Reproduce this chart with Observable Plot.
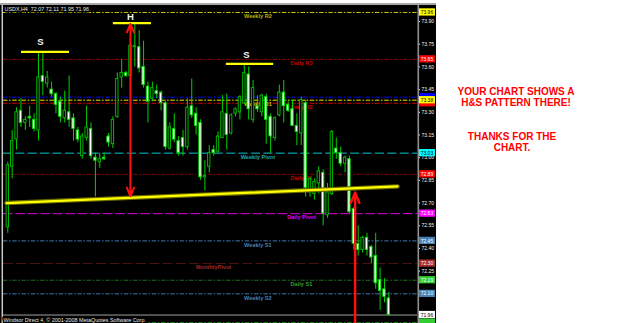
<!DOCTYPE html>
<html><head><meta charset="utf-8">
<script src="https://cdn.jsdelivr.net/npm/d3@7"></script>
<script src="https://cdn.jsdelivr.net/npm/@observablehq/plot@0.6"></script>
<style>
html,body{margin:0;padding:0;background:#fff;width:625px;height:323px;overflow:hidden;}
#wrap{position:relative;width:625px;height:323px;}
#chart{position:absolute;left:0;top:0;line-height:0;}
.note{position:absolute;color:#ff0000;font:bold 10px "Liberation Sans",Arial,sans-serif;line-height:10px;white-space:nowrap;transform:translateX(-50%);}
.strip{position:absolute;left:0;width:436px;}
</style></head><body>
<div id="wrap">
<div id="chart"></div>
<div class="strip" style="top:0;height:3px;background:#fff"></div>
<div class="strip" style="top:3px;height:2px;background:#a8a8a8"></div>
<div class="note" style="left:516px;top:87px">YOUR CHART SHOWS A</div>
<div class="note" style="left:516px;top:98px">H&amp;S PATTERN THERE!</div>
<div class="note" style="left:512px;top:132px">THANKS FOR THE</div>
<div class="note" style="left:512px;top:143px">CHART.</div>
</div>
<script>
// ---- candles (USDX, H4) ----
const open  = [72.54,72.94,73.12,73.31,73.23,73.27,73.25,73.18,73.54,73.49,73.45,73.42,73.37,73.26,73.30,73.26,73.18,73.01,73.13,73.19,73.00,72.97,73.00,73.14,73.09,73.27,73.53,73.56,73.54,73.73,73.73,73.60,73.47,73.39,73.44,73.43,73.36,73.06,73.19,73.11,73.13,73.07,73.34,73.29,73.23,72.87,72.94,73.05,73.04,73.13,73.29,73.16,73.29,73.30,73.36,73.55,73.25,73.34,73.30,73.40,73.27,73.13,73.28,73.43,73.35,73.32,73.21,73.16,73.36,72.78,72.76,72.83,72.90,72.62,72.76,73.06,73.03,72.96,72.99,72.66,72.43,72.39,72.47,72.41,72.35,72.19,72.13,72.07];
const high  = [72.97,73.18,73.33,73.39,73.27,73.34,73.29,73.69,73.69,73.57,73.50,73.43,73.40,73.44,73.54,73.29,73.20,73.16,73.34,73.23,73.03,73.03,73.03,73.16,73.27,73.56,73.65,73.57,73.78,73.89,73.84,73.77,73.50,73.50,73.48,73.44,73.37,73.23,73.29,73.14,73.18,73.39,73.52,73.33,73.25,72.98,73.08,73.08,73.17,73.41,73.42,73.29,73.33,73.41,73.61,73.60,73.51,73.41,73.42,73.42,73.29,73.27,73.48,73.51,73.37,73.38,73.29,73.40,73.38,72.87,72.86,72.94,72.92,72.83,73.18,73.13,73.07,73.01,73.01,72.67,72.55,72.48,72.50,72.42,72.50,72.27,72.20,72.11];
const low   = [72.50,72.86,73.05,73.20,73.18,73.20,73.17,73.11,73.41,73.46,73.40,73.29,73.23,73.23,73.20,73.11,73.10,72.99,73.11,72.99,72.74,72.93,72.98,73.07,73.06,73.26,73.46,73.53,73.52,73.60,73.56,73.46,73.23,73.37,73.39,73.31,73.05,73.05,73.10,73.01,73.01,73.05,73.26,73.15,72.85,72.78,72.90,73.01,73.03,73.13,73.05,73.15,73.27,73.25,73.35,73.25,73.23,73.30,73.27,73.09,73.03,73.11,73.27,73.23,73.30,73.21,73.08,73.08,72.74,72.74,72.72,72.76,72.55,72.60,72.75,72.99,72.94,72.90,72.63,72.39,72.35,72.37,72.35,72.30,72.13,71.99,72.04,71.95];
const close = [72.95,73.11,73.30,73.23,73.25,73.26,73.19,73.53,73.50,73.53,73.42,73.35,73.27,73.31,73.25,73.19,73.12,73.14,73.20,73.01,72.98,72.99,72.99,73.10,73.25,73.52,73.56,73.54,73.74,73.74,73.59,73.48,73.37,73.46,73.42,73.36,73.07,73.20,73.12,73.03,73.07,73.33,73.28,73.21,72.87,72.88,73.03,73.03,73.14,73.30,73.15,73.28,73.32,73.40,73.56,73.32,73.46,73.32,73.41,73.25,73.14,73.26,73.43,73.34,73.31,73.21,73.17,73.38,72.80,72.86,72.84,72.91,72.63,72.77,73.17,73.03,72.96,73.00,72.64,72.43,72.39,72.47,72.39,72.34,72.17,72.12,72.08,71.96];

// ---- pivot levels ----
const levelPrice = [73.96,73.65,73.40,73.36,73.38,73.03,72.89,72.63,72.45,72.30,72.19,72.10,71.96,71.91];
const levelName  = ["Weekly R2","Daily R3","","Daily R2","Weekly R1","Weekly Pivot","Daily R1","Daily Pivot","Weekly S1","MonthlyPivot","Daily S1","Weekly S2","",""];
// price tags; the ones hidden behind a neighbouring tag (or the bottom edge) show no text
const levelTag   = ["73.96","73.65","","","73.38","73.03","72.89","72.63","72.45","72.30","72.19","72.10","71.96",""];
const levelKind  = ["weekly","daily","daily","daily","weekly","weekly","daily","daily","weekly","monthly","daily","weekly","","" ];

// ---- axis ticks ----
const yTicks = [73.90,73.75,73.60,73.45,73.30,73.15,73.00,72.85,72.70,72.55,72.40,72.25];

// ---- head & shoulders annotation ----
const hsName  = ["S","H","S"];
const hsFrom  = [4.13,25.1,50.9];
const hsTo    = [15.09,33.8,61.7];
const hsPrice = [73.70,73.89,73.62];
const hsTextAt = [8.47,29.0,55.5];
const hsTextPrice = [73.765,73.93,73.682];
const neckIdx = [0.70,89.97];
const neckPrice = [72.70,72.81];
const arrow1Idx = 29.0, arrow1Top = 73.885, arrow1Bottom = 72.745;
const arrow2Idx = 80.3, arrow2From = 71.90, arrow2To = 72.77;

const titleText = "USDX,H4  72.07 72.11 71.95 71.96";
const footerText = "Windsor Direct 4, \u00a9 2001-2008 MetaQuotes Software Corp.";

// ---- styles ----
const DD = "4.5,1.6,1.6,1.6";
const levelStyle = [
 {line:"#c8c800", dash:DD, label:"#b4b400", box:"#ffff00", text:"#000"},
 {line:"#960000", dash:DD, label:"#c80000", box:"#ff0000", text:"#fff"},
 {line:"#0000ff", dash:DD, label:"#0000ff", box:"#0000ff", text:"#fff"},
 {line:"#e00000", dash:DD, label:"#d00000", box:"#ff0000", text:"#fff"},
 {line:"#e6e600", dash:DD, label:"#c8c800", box:"#ffff00", text:"#000"},
 {line:"#00c8d0", dash:"9,3.4", label:"#20a8b0", box:"#00ffff", text:"#000"},
 {line:"#800000", dash:DD, label:"#c00000", box:"#ff0000", text:"#fff"},
 {line:"#e000e0", dash:"9.5,3", label:"#e000e0", box:"#ff00ff", text:"#fff"},
 {line:"#3c78b4", dash:DD, label:"#4682b4", box:"#4682b4", text:"#fff"},
 {line:"#501414", dash:"10,3.3", label:"#a02828", box:"#a52a2a", text:"#fff"},
 {line:"#1e6e1e", dash:DD, label:"#32a032", box:"#32cd32", text:"#fff"},
 {line:"#3c78b4", dash:DD, label:"#4682b4", box:"#4682b4", text:"#fff"},
 {line:"#a0a0a0", dash:null, label:"#fff", box:"#ffffff", text:"#000"},
 {line:"#208020", dash:DD, label:"#fff", box:"#32cd32", text:"#fff"}
];
const labelAt = {weekly: 58.1, daily: 68.05, monthly: 48.0};
const X0 = -0.438, X1 = 94.54;      // frame extents in bar units
const BOX1 = 94.99, BOX2 = 98.64, BOXH = 0.024; // price tag box in axis strip

const candles = open.map((o,k)=>({i:k+1,o,h:high[k],l:low[k],c:close[k]}));
const levels = levelPrice.map((p,k)=>({p,name:levelName[k],tag:levelTag[k],kind:levelKind[k],...levelStyle[k]}));
const hs = hsName.map((n,k)=>({n,a:hsFrom[k],b:hsTo[k],p:hsPrice[k],tx:hsTextAt[k],tp:hsTextPrice[k]}));
const neck = neckIdx.map((i,k)=>({i,p:neckPrice[k]}));

const GREEN = "#00d400";
const marks = [];
levels.forEach(d=>{
  marks.push(Plot.ruleY([d], {y:"p", x1:()=>0, x2:()=>X1, stroke:d.line, strokeWidth:1, strokeDasharray:d.dash || undefined}));
});
marks.push(Plot.text(levels.filter(d=>d.name), {x:d=>labelAt[d.kind], y:"p", text:"name", fill:"label", dy:4, fontSize:5.6, fontWeight:"bold"}));
marks.push(Plot.ruleX(candles, {x:"i", y1:"l", y2:"h", stroke:GREEN, strokeWidth:1}));
marks.push(Plot.rect(candles, {x1:d=>d.i-0.27, x2:d=>d.i+0.27, y1:d=>Math.min(d.o,d.c), y2:d=>Math.max(d.o,d.c),
  fill:d=>d.c>=d.o?"#000":"#fff", stroke:d=>d.c>=d.o?"#00b400":GREEN, strokeWidth:1}));
marks.push(Plot.line(neck, {x:"i", y:"p", stroke:"#6a6a00", strokeWidth:4.5}));
marks.push(Plot.line(neck, {x:"i", y:"p", stroke:"#ffff00", strokeWidth:2.2}));
marks.push(Plot.ruleY(hs, {y:"p", x1:"a", x2:"b", stroke:"#ffff00", strokeWidth:2.2}));
marks.push(Plot.text(hs, {x:"tx", y:"tp", text:"n", fill:"#f4f4f4", fontSize:9.5, fontWeight:"bold"}));
const mid1 = (arrow1Top+arrow1Bottom)/2;
marks.push(Plot.arrow([{x:arrow1Idx,a:mid1,b:arrow1Top},{x:arrow1Idx,a:mid1,b:arrow1Bottom}],
  {x1:"x", x2:"x", y1:"a", y2:"b", stroke:"#ff1010", strokeWidth:2, headLength:7, headAngle:45}));
marks.push(Plot.arrow([{x:arrow2Idx,a:arrow2From,b:arrow2To}],
  {x1:"x", x2:"x", y1:"a", y2:"b", stroke:"#ff1010", strokeWidth:2.4, headLength:7, headAngle:45}));
marks.push(Plot.ruleX([X0], {stroke:"#c8c8c8", strokeWidth:1.5, dx:0.8}));
marks.push(Plot.ruleX([X1], {stroke:"#909090", strokeWidth:1.6, dx:0.8}));
marks.push(Plot.rect(levels, {x1:()=>BOX1, x2:()=>BOX2, y1:d=>d.p-BOXH, y2:d=>d.p+BOXH, fill:"box"}));
marks.push(Plot.text(levels.filter(d=>d.tag), {x:()=>BOX1, y:"p", text:"tag", fill:"text", textAnchor:"start", dx:1.2, fontSize:5}));
marks.push(Plot.text([titleText], {frameAnchor:"top-left", text:d=>d, textAnchor:"start", lineAnchor:"top", dx:3, dy:1.5, fill:"#e8e8e8", stroke:"#000", strokeWidth:3, fontSize:5.4}));
marks.push(Plot.text([footerText], {frameAnchor:"bottom-left", text:d=>d, textAnchor:"start", lineAnchor:"bottom", dx:2, dy:-1.5, fill:"#e8e8e8", stroke:"#000", strokeWidth:3, fontSize:5.4}));

const chart = Plot.plot({
  width:436, height:323,
  marginTop:5, marginBottom:0, marginLeft:1, marginRight:19,
  x:{domain:[X0,X1], axis:null},
  y:{domain:[71.904,74.006], axis:"right", ticks:yTicks, tickSize:2, tickPadding:2, tickFormat:d3.format(".2f"), label:null},
  color:{type:"identity"},
  style:{background:"#000", color:"#f0f0f0", fontFamily:"'Liberation Sans', Arial, sans-serif", fontSize:"5px"},
  marks
});
document.getElementById("chart").appendChild(chart);
</script>
</body></html>
